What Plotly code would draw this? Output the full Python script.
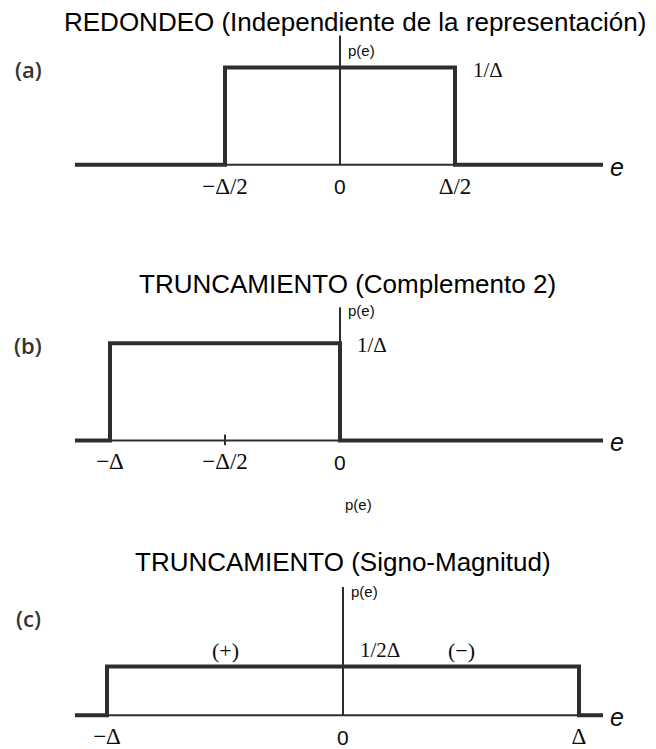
import plotly.graph_objects as go

# ---- data -------------------------------------------------------------
DELTA = 1.0

# (a) rounding: uniform on [-Δ/2, Δ/2], height 1/Δ
round_edges = [-DELTA / 2, DELTA / 2]
round_height = 1 / DELTA
round_ticks = [-DELTA / 2, DELTA / 2]
round_ticktext = ["−Δ/2", "Δ/2"]

# (b) two's complement truncation: uniform on [-Δ, 0], height 1/Δ
tc_edges = [-DELTA, 0.0]
tc_height = 1 / DELTA
tc_ticks = [-DELTA, -DELTA / 2]
tc_ticktext = ["−Δ", "−Δ/2"]
tc_minor_tick = [-DELTA / 2]

# (c) sign-magnitude truncation: uniform on [-Δ, Δ], height 1/(2Δ)
sm_edges = [-DELTA, DELTA]
sm_height = 1 / (2 * DELTA)
sm_ticks = [-DELTA, DELTA]
sm_ticktext = ["−Δ", "Δ"]
sm_sign_labels = ["(+)", "(−)"]
sm_sign_pos = [-DELTA / 2, DELTA / 2]

origin_label = "0"
titles = ["REDONDEO (Independiente de la representación)",
          "TRUNCAMIENTO (Complemento 2)",
          "TRUNCAMIENTO (Signo-Magnitud)"]
panel_tags = ["(a)", "(b)", "(c)"]
height_labels = ["1/Δ", "1/Δ", "1/2Δ"]

# ---- geometry / style -------------------------------------------------
W, H = 656, 749
PX_Y = 98.0                      # pixels per unit of p(e)
Y_MIN, Y_MAX = -0.05, 1.45
INK = "#2e2e2e"
TXT = "#0d0d0d"
THICK, THIN = 4, 2
SERIF = "Liberation Serif, Times New Roman, serif"
SANS = "Liberation Sans, Arial, sans-serif"

# per panel: pixel column of e=0, pixels per Δ, pixel row of the e axis,
# top of the p(e) axis (in data units), title/tag rows
panels = [
    dict(zero=340, unit=230, base=166, vtop=1.33, title_x=355, title_y=22,
         tag_y=70, pe_y=1.17, lab_y=0.97),
    dict(zero=340, unit=230, base=444, vtop=1.37, title_x=347, title_y=286,
         tag_y=348, pe_y=1.34, lab_y=0.98),
    dict(zero=343, unit=236, base=721, vtop=1.32, title_x=343, title_y=567,
         tag_y=623, pe_y=1.27, lab_y=0.67),
]
AXIS_LEFT_PX, AXIS_RIGHT_PX = 75, 603


def to_data_x(p, px):
    return (px - p["zero"]) / p["unit"]


fig = go.Figure()

specs = [
    (round_edges, round_height, round_ticks, round_ticktext),
    (tc_edges, tc_height, tc_ticks, tc_ticktext),
    (sm_edges, sm_height, sm_ticks, sm_ticktext),
]

annotations = []
for i, (p, (edges, hgt, tv, tt)) in enumerate(zip(panels, specs)):
    n = "" if i == 0 else str(i + 1)
    xa, ya = "x" + n, "y" + n
    xl, xr = to_data_x(p, AXIS_LEFT_PX), to_data_x(p, AXIS_RIGHT_PX)

    # thin e axis
    fig.add_trace(go.Scatter(x=[xl, xr], y=[0, 0], mode="lines",
                             line=dict(color=INK, width=THIN),
                             xaxis=xa, yaxis=ya, hoverinfo="skip", showlegend=False))
    # probability density (thick outline)
    px_ = [xl, edges[0], edges[0], edges[1], edges[1], xr]
    py_ = [0, 0, hgt, hgt, 0, 0]
    fig.add_trace(go.Scatter(x=px_, y=py_, mode="lines",
                             line=dict(color=INK, width=THICK),
                             xaxis=xa, yaxis=ya, hoverinfo="skip", showlegend=False))
    # p(e) axis
    fig.add_trace(go.Scatter(x=[0, 0], y=[0, p["vtop"]], mode="lines",
                             line=dict(color=INK, width=THIN),
                             xaxis=xa, yaxis=ya, hoverinfo="skip", showlegend=False))

    bottom_px = p["base"] - Y_MIN * PX_Y
    top_px = p["base"] - Y_MAX * PX_Y
    fig.update_layout(**{
        ("xaxis" + n): dict(domain=[0, 1], anchor=ya,
                            range=[to_data_x(p, 0), to_data_x(p, W)],
                            showgrid=False, zeroline=False, showline=False,
                            ticks="", tickvals=tv, ticktext=tt,
                            tickfont=dict(family=SERIF, size=23, color=TXT),
                            ticklabelstandoff=0, fixedrange=True),
        ("yaxis" + n): dict(domain=[1 - bottom_px / H, 1 - top_px / H],
                            anchor=xa, range=[Y_MIN, Y_MAX], visible=False,
                            fixedrange=True),
    })

    # origin label (sans-serif, unlike the other tick labels)
    annotations.append(dict(text=origin_label, xref=xa, yref=ya, x=0, y=0,
                            yshift=-22, showarrow=False, xanchor="center",
                            yanchor="middle",
                            font=dict(family=SANS, size=21, color=TXT)))
    # title and panel tag
    annotations.append(dict(text=titles[i], xref="paper", yref="paper",
                            x=p["title_x"] / W, y=1 - p["title_y"] / H,
                            showarrow=False, xanchor="center", yanchor="middle",
                            font=dict(family=SANS, size=26, color="#000")))
    annotations.append(dict(text=panel_tags[i], xref="paper", yref="paper",
                            x=28 / W, y=1 - p["tag_y"] / H, showarrow=False,
                            xanchor="center", yanchor="middle",
                            font=dict(family="Open Sans, Noto Sans, sans-serif",
                                      size=22, color="#333", weight=600)))
    # axis names
    annotations.append(dict(text="p(e)", xref=xa, yref=ya, x=0, y=p["pe_y"],
                            xshift=6, showarrow=False, xanchor="left",
                            yanchor="middle",
                            font=dict(family=SANS, size=15, color=TXT)))
    annotations.append(dict(text="e", xref=xa, yref=ya, x=xr, y=0, xshift=5,
                            yshift=-2, showarrow=False, xanchor="left",
                            yanchor="middle",
                            font=dict(family=SANS, size=25, color=TXT,
                                      style="italic")))

# height labels
annotations.append(dict(text=height_labels[0], xref="x", yref="y",
                        x=round_edges[1], y=panels[0]["lab_y"], xshift=16,
                        showarrow=False, xanchor="left", yanchor="middle",
                        font=dict(family=SERIF, size=21, color=TXT)))
annotations.append(dict(text=height_labels[1], xref="x2", yref="y2",
                        x=tc_edges[1], y=panels[1]["lab_y"], xshift=15,
                        showarrow=False, xanchor="left", yanchor="middle",
                        font=dict(family=SERIF, size=21, color=TXT)))
annotations.append(dict(text=height_labels[2], xref="x3", yref="y3",
                        x=0, y=panels[2]["lab_y"], xshift=15,
                        showarrow=False, xanchor="left", yanchor="middle",
                        font=dict(family=SERIF, size=21, color=TXT)))
for lab, xv in zip(sm_sign_labels, sm_sign_pos):
    annotations.append(dict(text=lab, xref="x3", yref="y3", x=xv,
                            y=panels[2]["lab_y"], showarrow=False,
                            xanchor="center", yanchor="middle",
                            font=dict(family=SERIF, size=22, color=TXT)))

# small tick at -Δ/2 on the truncation axis
for tx in tc_minor_tick:
    fig.add_trace(go.Scatter(x=[tx, tx], y=[-0.055, 0.06], mode="lines",
                             line=dict(color=INK, width=THIN),
                             xaxis="x2", yaxis="y2", hoverinfo="skip",
                             showlegend=False))

# stray p(e) label between panels (b) and (c)
annotations.append(dict(text="p(e)", xref="paper", yref="paper",
                        x=358 / W, y=1 - 509 / H, showarrow=False,
                        xanchor="center", yanchor="middle",
                        font=dict(family=SANS, size=15, color=TXT)))

fig.update_layout(width=W, height=H, margin=dict(l=0, r=0, t=0, b=0),
                  paper_bgcolor="white", plot_bgcolor="white",
                  annotations=annotations, showlegend=False)

fig.write_html("out.html")
